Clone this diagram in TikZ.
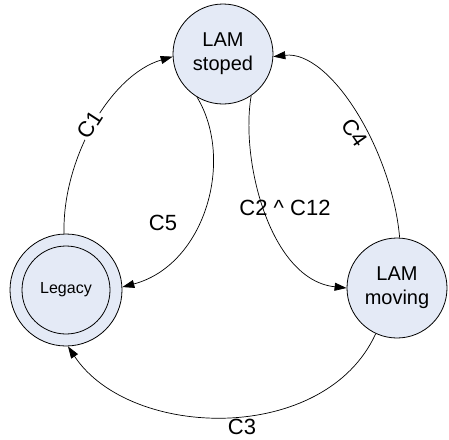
\documentclass[tikz,border=0pt]{standalone}
\usepackage{fontspec}
\setmainfont{Liberation Sans}
\usetikzlibrary{arrows.meta}
\definecolor{statefill}{RGB}{228,234,246}
\begin{document}
\begin{tikzpicture}[x=1pt,y=-1pt,
  state/.style={circle,draw=black,line width=0.8pt,fill=statefill,inner sep=0pt,align=center,font=\fontsize{20}{24}\selectfont},
  trans/.style={draw=black,line width=0.7pt,-{Triangle[length=12pt,width=8pt]}},
  lab/.style={font=\fontsize{22}{24}\selectfont,inner sep=1pt}]
\useasboundingbox (0,0) rectangle (449,439);
\node[state,minimum size=100pt] (stop) at (223,54) {LAM\\stoped};
\node[state,minimum size=100pt] (move) at (397,288) {LAM\\moving};
\node[state,minimum size=112pt] (leg) at (66,290) {};
\node[state,minimum size=88pt,font=\fontsize{16}{18}\selectfont] (legin) at (66,290) {Legacy};
% C1
\draw[trans] (leg.92) .. controls (62,160) and (110,75) .. (stop.183);
% C5
\draw[trans] (stop.-121) .. controls (235,160) and (205,265) .. (leg.3);
% C2 ^ C12
\draw[trans] (stop.-56) .. controls (240,160) and (270,280) .. (move.180);
% C4
\draw[trans] (move.87) .. controls (392,150) and (330,50) .. (stop.-3);
% C3
\draw[trans] (move.-115) .. controls (325,445) and (130,440) .. (leg.-88);
\node[lab,fill=white,rotate=57] (c1) at (90,125) {C1};
\node[lab,fill=white,rotate=-55] (c4) at (355,133) {C4};
\node[lab] (c5) at (163,223) {C5};
\node[lab] (c2) at (285,208) {C2 \^{} C12};
\node[lab] (c3) at (242,427) {C3};
\end{tikzpicture}
\end{document}
